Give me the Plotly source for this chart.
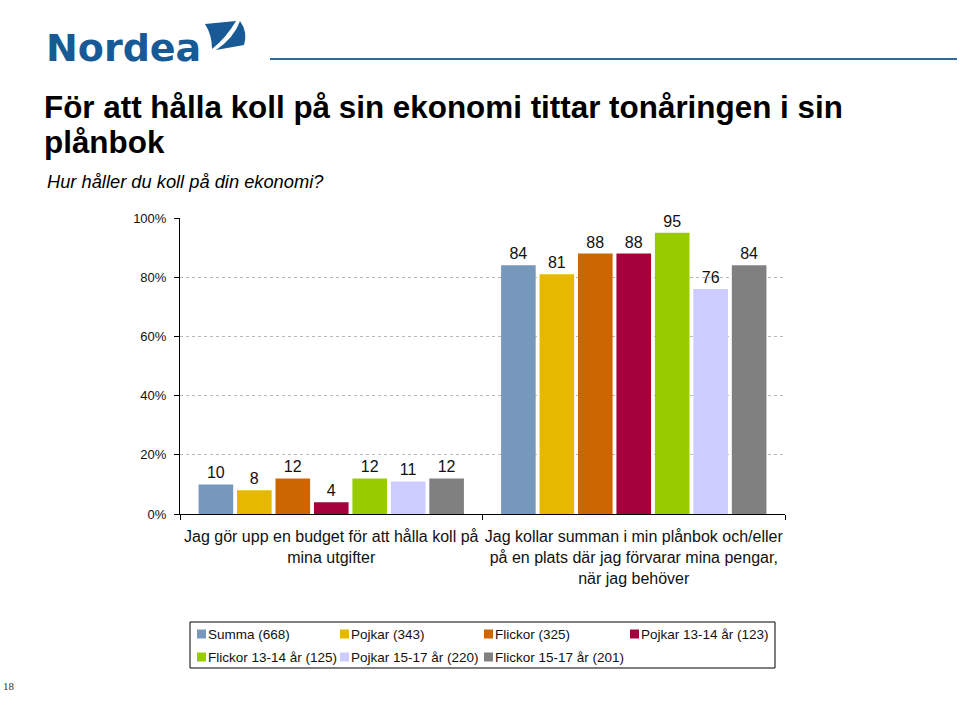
import plotly.graph_objects as go

categories = [
    "Jag gör upp en budget för att hålla koll på<br>mina utgifter",
    "Jag kollar summan i min plånbok och/eller<br>på en plats där jag förvarar mina pengar,<br>när jag behöver",
]
series_names = [
    "Summa (668)", "Pojkar (343)", "Flickor (325)", "Pojkar 13-14 år (123)",
    "Flickor 13-14 år (125)", "Pojkar 15-17 år (220)", "Flickor 15-17 år (201)",
]
series_values = [
    [10, 84],
    [8, 81],
    [12, 88],
    [4, 88],
    [12, 95],
    [11, 76],
    [12, 84],
]
colors = ["#7698bd", "#e6b800", "#cc6600", "#a3003c", "#99cc00", "#ccccff", "#808080"]
y_ticks = [0, 20, 40, 60, 80, 100]
y_tick_labels = ["0%", "20%", "40%", "60%", "80%", "100%"]

FONT = "Arial, 'Liberation Sans', sans-serif"
W, H = 960, 710
PX0, PX1 = 180, 785
PY0, PY1 = 514, 218


def px(x):
    return (x - PX0) / (PX1 - PX0)


def py(y):
    return (PY0 - y) / (PY0 - PY1)


fig = go.Figure()
for name, vals, col in zip(series_names, series_values, colors):
    fig.add_trace(go.Bar(
        x=categories, y=vals, name=name, marker=dict(color=col, line=dict(width=0)),
        text=[str(v) for v in vals], textposition="outside",
        textfont=dict(size=16, color="#111111", family=FONT), cliponaxis=False,
    ))

NB = "#175a95"
s1 = (f"M {px(205)},{py(24)} L {px(236)},{py(21)} Q {px(226)},{py(38)} {px(212)},{py(49)} "
      f"Q {px(212)},{py(35)} {px(205)},{py(24)} Z")
s2 = (f"M {px(240)},{py(21)} Q {px(248)},{py(32)} {px(244)},{py(45)} L {px(216)},{py(50)} "
      f"Q {px(234)},{py(38)} {px(240)},{py(21)} Z")

shapes = [
    dict(type="path", xref="paper", yref="paper", path=s1, fillcolor=NB, line=dict(width=0)),
    dict(type="path", xref="paper", yref="paper", path=s2, fillcolor=NB, line=dict(width=0)),
    dict(type="line", xref="paper", yref="paper", x0=px(270), x1=px(957), y0=py(59), y1=py(59),
         line=dict(color="#2e6a9c", width=2)),
]

annotations = [
    dict(text="<b>Nordea</b>", x=px(44), y=py(48), xref="paper", yref="paper", xanchor="left",
         yanchor="middle", showarrow=False,
         font=dict(size=38, color=NB, family="'DejaVu Sans', sans-serif")),
    dict(text="<b>För att hålla koll på sin ekonomi tittar tonåringen i sin</b>",
         x=px(42), y=py(88), xref="paper", yref="paper", xanchor="left", yanchor="top",
         align="left", showarrow=False, font=dict(size=31.4, color="#000000", family=FONT)),
    dict(text="<b>plånbok</b>",
         x=px(42), y=py(123), xref="paper", yref="paper", xanchor="left", yanchor="top",
         align="left", showarrow=False, font=dict(size=31.4, color="#000000", family=FONT)),
    dict(text="<i>Hur håller du koll på din ekonomi?</i>", x=px(45), y=py(181), xref="paper",
         yref="paper", xanchor="left", yanchor="middle", showarrow=False,
         font=dict(size=18.3, color="#000000", family=FONT)),
    dict(text="18", x=px(1), y=py(686), xref="paper", yref="paper", xanchor="left",
         yanchor="middle", showarrow=False,
         font=dict(size=11, color="#333333", family="'Liberation Serif', 'DejaVu Serif', serif")),
]

# legend (built from the series names and colours)
legend_cols = [197, 340, 484, 630]
legend_rows = [634, 657]
shapes.append(dict(type="rect", xref="paper", yref="paper", x0=px(190), x1=px(775),
                   y0=py(622), y1=py(668), line=dict(color="#000000", width=1),
                   fillcolor="rgba(0,0,0,0)"))
for i, (name, col) in enumerate(zip(series_names, colors)):
    lx = legend_cols[i % 4]
    ly = legend_rows[i // 4]
    shapes.append(dict(type="rect", xref="paper", yref="paper", x0=px(lx), x1=px(lx + 9),
                       y0=py(ly - 4.5), y1=py(ly + 4.5), line=dict(width=0), fillcolor=col))
    annotations.append(dict(text=name, x=px(lx + 9), y=py(ly), xref="paper", yref="paper",
                            xanchor="left", yanchor="middle", showarrow=False,
                            font=dict(size=13.5, color="#111111", family=FONT)))

fig.update_layout(
    width=W, height=H,
    margin=dict(l=PX0, r=W - PX1, t=PY1, b=H - PY0, autoexpand=False),
    paper_bgcolor="white", plot_bgcolor="white",
    font=dict(family=FONT, color="#111111"),
    barmode="group", bargap=0.11, bargroupgap=0.1,
    showlegend=False,
    shapes=shapes, annotations=annotations,
)
fig.update_yaxes(
    range=[0, 100], tickvals=y_ticks, ticktext=y_tick_labels, showgrid=True,
    gridcolor="#b8b8b8", griddash="dot", gridwidth=1, automargin=False,
    showline=True, linecolor="#000000", linewidth=1, ticks="outside", ticklen=5,
    tickcolor="#000000", tickfont=dict(size=13, family=FONT, color="#111111"), zeroline=False,
    ticklabelstandoff=5,
)
fig.update_xaxes(
    showline=True, linecolor="#000000", linewidth=1, ticks="outside", ticklen=5,
    tickson="boundaries", tickcolor="#000000", showgrid=False, ticklabelstandoff=8,
    tickangle=0, automargin=False,
    tickfont=dict(size=16, family=FONT, color="#111111"),
)

fig.write_html("out.html", config={"displayModeBar": False},
               post_script="document.body.style.margin='0';")
